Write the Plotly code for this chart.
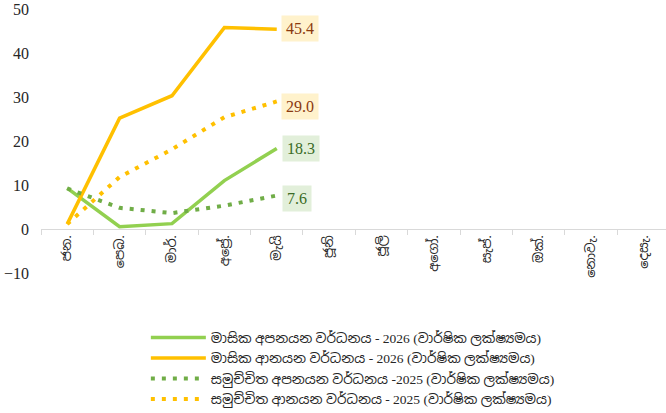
import plotly.graph_objects as go

months = ["ජන.", "පෙබ.", "මාර්.", "අප්‍රේ.", "මැයි", "ජූනි", "ජූලි", "අගෝ.", "සැප්.", "ඔක්.", "නොවැ.", "දෙසැ."]

export_2026 = [9.3, 0.5, 1.2, 11.0, 18.3]
import_2026 = [1.1, 25.2, 30.3, 45.8, 45.4]
cum_export_2025 = [9.2, 4.8, 3.6, 5.3, 7.6]
cum_import_2025 = [1.1, 11.8, 18.1, 25.4, 29.0]

names = [
    "මාසික අපනයන වර්ධනය - 2026 (වාර්ෂික ලක්ෂ්‍යමය)",
    "මාසික ආනයන වර්ධනය - 2026 (වාර්ෂික ලක්ෂ්‍යමය)",
    "සමුච්චිත අපනයන වර්ධනය -2025 (වාර්ෂික ලක්ෂ්‍යමය)",
    "සමුච්චිත ආනයන වර්ධනය - 2025 (වාර්ෂික ලක්ෂ්‍යමය)",
]
y_ticks = [-10, 0, 10, 20, 30, 40, 50]

FONT = "Liberation Serif, Noto Sans Sinhala, Iskoola Pota, serif"
NUMFONT = "Liberation Serif, Times New Roman, serif"

series = [export_2026, import_2026, cum_export_2025, cum_import_2025]
colors = ["#92D050", "#FFC000", "#70AD47", "#FFC000"]
dashes = ["solid", "solid", "4px,7px", "4px,7px"]
widths = [3.5, 3.5, 4, 4]

fig = go.Figure()
for vals, nm, c, d, w in zip(series, names, colors, dashes, widths):
    fig.add_trace(go.Scatter(
        x=months[:len(vals)], y=vals, mode="lines", name=nm,
        line=dict(color=c, width=w, dash=d),
    ))

label_bg = ["#E2EFDA", "#FFF2CC", "#E2EFDA", "#FFF2CC"]
label_fc = ["#3A6B25", "#8B3A0F", "#3A6B25", "#8B3A0F"]
label_xshift = [5, 4, 5, 4]
label_yshift = [0, 1, -2.5, -5]
for vals, bg, fc, xs, ys in zip(series, label_bg, label_fc, label_xshift, label_yshift):
    fig.add_annotation(
        x=months[len(vals) - 1], y=vals[-1], text=f"{vals[-1]:.1f}",
        showarrow=False, xanchor="left", yanchor="middle",
        xshift=xs, yshift=ys, bgcolor=bg, borderpad=4,
        font=dict(family=NUMFONT, size=16, color=fc),
    )

fig.update_layout(
    width=666, height=413,
    margin=dict(l=41, r=0, t=9, b=140, autoexpand=False),
    plot_bgcolor="white", paper_bgcolor="white",
    font=dict(family=FONT, color="#262626"),
    showlegend=True,
    legend=dict(
        xref="container", yref="container", x=0.219, y=0.22,
        xanchor="left", yanchor="top",
        font=dict(family=FONT, size=13.5, color="#262626"),
        tracegroupgap=0, itemwidth=55,
    ),
    xaxis=dict(
        type="category", categoryorder="array", categoryarray=months,
        range=[-0.5, 11.43], automargin=False,
        anchor="free", position=1 / 6,
        showline=True, linecolor="#D9D9D9", linewidth=1,
        ticks="outside", tickson="boundaries", ticklen=5, tickcolor="#D9D9D9",
        tickangle=-90, showgrid=False, zeroline=False,
        tickfont=dict(family=FONT, size=13, color="#262626"),
    ),
    yaxis=dict(
        range=[-10.02, 50.02], tickvals=y_ticks, showgrid=False, zeroline=False,
        showline=False, ticklabelstandoff=11, automargin=False,
        tickfont=dict(family=NUMFONT, size=16, color="#262626"),
    ),
)

fig.write_html(
    "out.html",
    config={"displayModeBar": False},
    post_script="document.body.style.margin='0';document.body.style.padding='0';",
)
